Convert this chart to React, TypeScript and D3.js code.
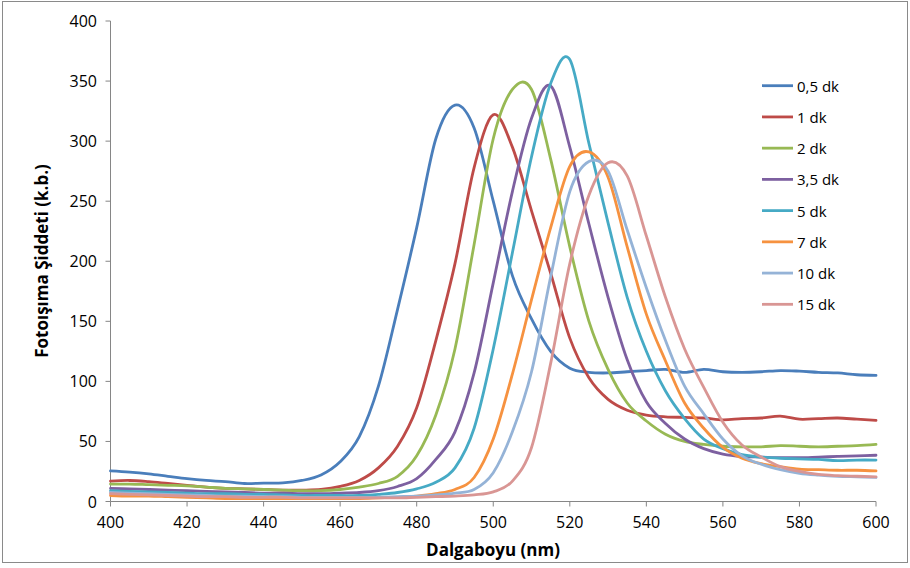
import React from "react";
import * as d3 from "d3";

// Wavelength grid (nm)
const wavelengths = [
  400, 405, 410, 415, 420, 425, 430, 435, 440, 445, 450, 455, 460, 465, 470,
  475, 480, 485, 490, 495, 500, 505, 510, 515, 520,
  525, 530, 535, 540, 545, 550, 555, 560, 565, 570,
  575, 580, 585, 590, 595, 600,
];

// Photoluminescence intensity (a.u.) for each reaction time
const s05dk = [25.5, 24.5, 23, 21, 19, 17.5, 16.5, 15, 15.3, 15.5, 17.5, 22, 33, 54, 96,
  160, 228, 302, 330, 311, 250, 188, 152, 125, 111,
  107.5, 107, 108, 109, 110, 107.5, 110, 108, 107.5, 108,
  109, 108.5, 107.5, 107, 105.5, 105];
const s1dk = [17, 17.5, 16.5, 15, 13.5, 12, 11, 10.5, 10, 9.5, 9.5, 10, 12.5, 17.5, 28,
  46, 78, 134, 198, 278, 322, 295, 242, 190, 136,
  103, 85, 76, 72, 70.5, 70, 69.5, 68, 69, 69.5,
  71, 68.5, 69, 69.5, 68.5, 67.5];
const s2dk = [14.5, 14.5, 14, 13.5, 13, 12, 11, 10.5, 10, 9.5, 9, 9, 10, 12, 15,
  21, 38, 72, 127, 214, 302, 343, 343, 285, 212,
  150, 110, 82, 67, 56, 50, 47.5, 46, 45.5, 45.5,
  46.5, 46, 45.5, 46, 46.5, 47.5];
const s35dk = [11, 10.5, 10, 9.5, 9, 8.5, 8, 7.5, 7, 7, 6.5, 6.5, 7, 7.5, 9,
  12.5, 19, 35, 58, 107, 182, 258, 319, 346, 295,
  231, 170, 118, 83, 65, 52, 44, 39.5, 37.5, 37,
  36.5, 36.5, 37, 37.5, 38, 38.5];
const s5dk = [9, 8.5, 8, 7.5, 7, 6.5, 6.5, 6, 6, 5.5, 5, 5, 5, 5, 6,
  7.5, 10.5, 16, 28, 61, 127, 207, 287, 348, 368,
  298, 232, 170, 125, 92, 69, 52, 44, 39, 37,
  36, 35.5, 35, 34, 34.5, 34.5];
const s7dk = [5, 4.5, 4.5, 4, 3.5, 3, 2.5, 2.5, 2.5, 2.5, 2.5, 2.5, 2.5, 2.5, 3,
  3.5, 4.5, 6.5, 10, 20, 52, 106, 168, 228, 279,
  291, 270, 212, 156, 117, 82, 61, 45, 36, 31.5,
  29, 27, 26.5, 26, 26, 25.5];
const s10dk = [7.5, 7, 6.5, 6, 5.5, 5, 4.5, 4.5, 4, 4, 3.5, 3.5, 3.5, 3.5, 3.5,
  4, 4.5, 5.5, 7, 10, 24, 58, 108, 187, 258,
  283, 275, 226, 178, 134, 96, 73, 52, 38, 31,
  26.5, 23.5, 22, 21, 20.5, 20];
const s15dk = [6.5, 6, 5.5, 5, 4.5, 4, 4, 3.5, 3.5, 3.5, 3, 3, 3, 3, 3,
  3, 3.5, 4, 4.5, 5.5, 8, 17, 45, 115, 198,
  255, 282, 271, 221, 170, 127, 95, 66, 47, 37,
  29, 25, 22.5, 21.5, 21, 20.5];

const seriesLabels = ["0,5 dk", "1 dk", "2 dk", "3,5 dk", "5 dk", "7 dk", "10 dk", "15 dk"];
const seriesValues = [s05dk, s1dk, s2dk, s35dk, s5dk, s7dk, s10dk, s15dk];
const seriesColors = ["#4A7EBB", "#BE4B48", "#98B954", "#7D60A0", "#46AAC5", "#F69240", "#95B3D7", "#D99694"];

const xTicks = [400, 420, 440, 460, 480, 500, 520, 540, 560, 580, 600];
const yTicks = [0, 50, 100, 150, 200, 250, 300, 350, 400];

const xTitle = "Dalgaboyu (nm)";
const yTitle = "Fotoışıma Şiddeti (k.b.)";

const W = 910;
const H = 568;
const FONT = "'Open Sans', 'Liberation Sans', sans-serif";
const AXIS = "#868686";

export default function App() {
  const x = d3.scaleLinear().domain([400, 600]).range([110.5, 876]);
  const y = d3.scaleLinear().domain([0, 400]).range([501.5, 21]);

  // uniform Catmull-Rom keeps the spectra smooth over the even wavelength grid
  const line = d3
    .line<[number, number]>()
    .x((d) => x(d[0]))
    .y((d) => y(d[1]))
    .curve(d3.curveCatmullRom.alpha(0));

  const legendX = 762;
  const legendY0 = 85.7;
  const legendStep = 31.23;

  return (
    <svg
      width={W}
      height={H}
      style={{ position: "absolute", left: 0, top: 0, background: "#fff" }}
      fontFamily={FONT}
    >
      <rect x={0} y={0} width={W} height={H} fill="#fff" />
      <rect x={2.5} y={1.5} width={905} height={561} fill="none" stroke="#8a8a8a" strokeWidth={1} />

      {/* axes */}
      <line x1={x(400)} x2={x(400)} y1={y(400)} y2={y(0)} stroke={AXIS} strokeWidth={1} />
      <line x1={x(400)} x2={x(600)} y1={y(0)} y2={y(0)} stroke={AXIS} strokeWidth={1} />
      {yTicks.map((t) => (
        <g key={"y" + t}>
          <line x1={x(400) - 5} x2={x(400)} y1={y(t)} y2={y(t)} stroke={AXIS} />
          <text x={97} y={y(t)} textAnchor="end" dominantBaseline="central" fontSize={16} fill="#000">
            {t}
          </text>
        </g>
      ))}
      {xTicks.map((t) => (
        <g key={"x" + t}>
          <line x1={x(t)} x2={x(t)} y1={y(0)} y2={y(0) + 5} stroke={AXIS} />
          <text x={x(t)} y={522} textAnchor="middle" dominantBaseline="central" fontSize={16} fill="#000">
            {t}
          </text>
        </g>
      ))}

      {/* series */}
      {seriesValues.map((vals, i) => (
        <path
          key={seriesLabels[i]}
          d={line(wavelengths.map((w, j) => [w, vals[j]] as [number, number])) || ""}
          fill="none"
          stroke={seriesColors[i]}
          strokeWidth={2.8}
          strokeLinejoin="round"
          strokeLinecap="round"
        />
      ))}

      {/* legend */}
      {seriesLabels.map((lab, i) => (
        <g key={"lg" + lab} transform={`translate(${legendX},${legendY0 + i * legendStep})`}>
          <line x1={0} x2={31} y1={0} y2={0} stroke={seriesColors[i]} strokeWidth={2.8} />
          <text x={35} y={0} dominantBaseline="central" fontSize={15} fill="#000">
            {lab}
          </text>
        </g>
      ))}

      {/* titles */}
      <text x={493} y={549} textAnchor="middle" dominantBaseline="central" fontSize={17} fontWeight="bold" fill="#000">
        {xTitle}
      </text>
      <text
        transform={`translate(41,261) rotate(-90)`}
        textAnchor="middle"
        dominantBaseline="central"
        fontSize={17}
        fontWeight="bold"
        fill="#000"
      >
        {yTitle}
      </text>
    </svg>
  );
}
